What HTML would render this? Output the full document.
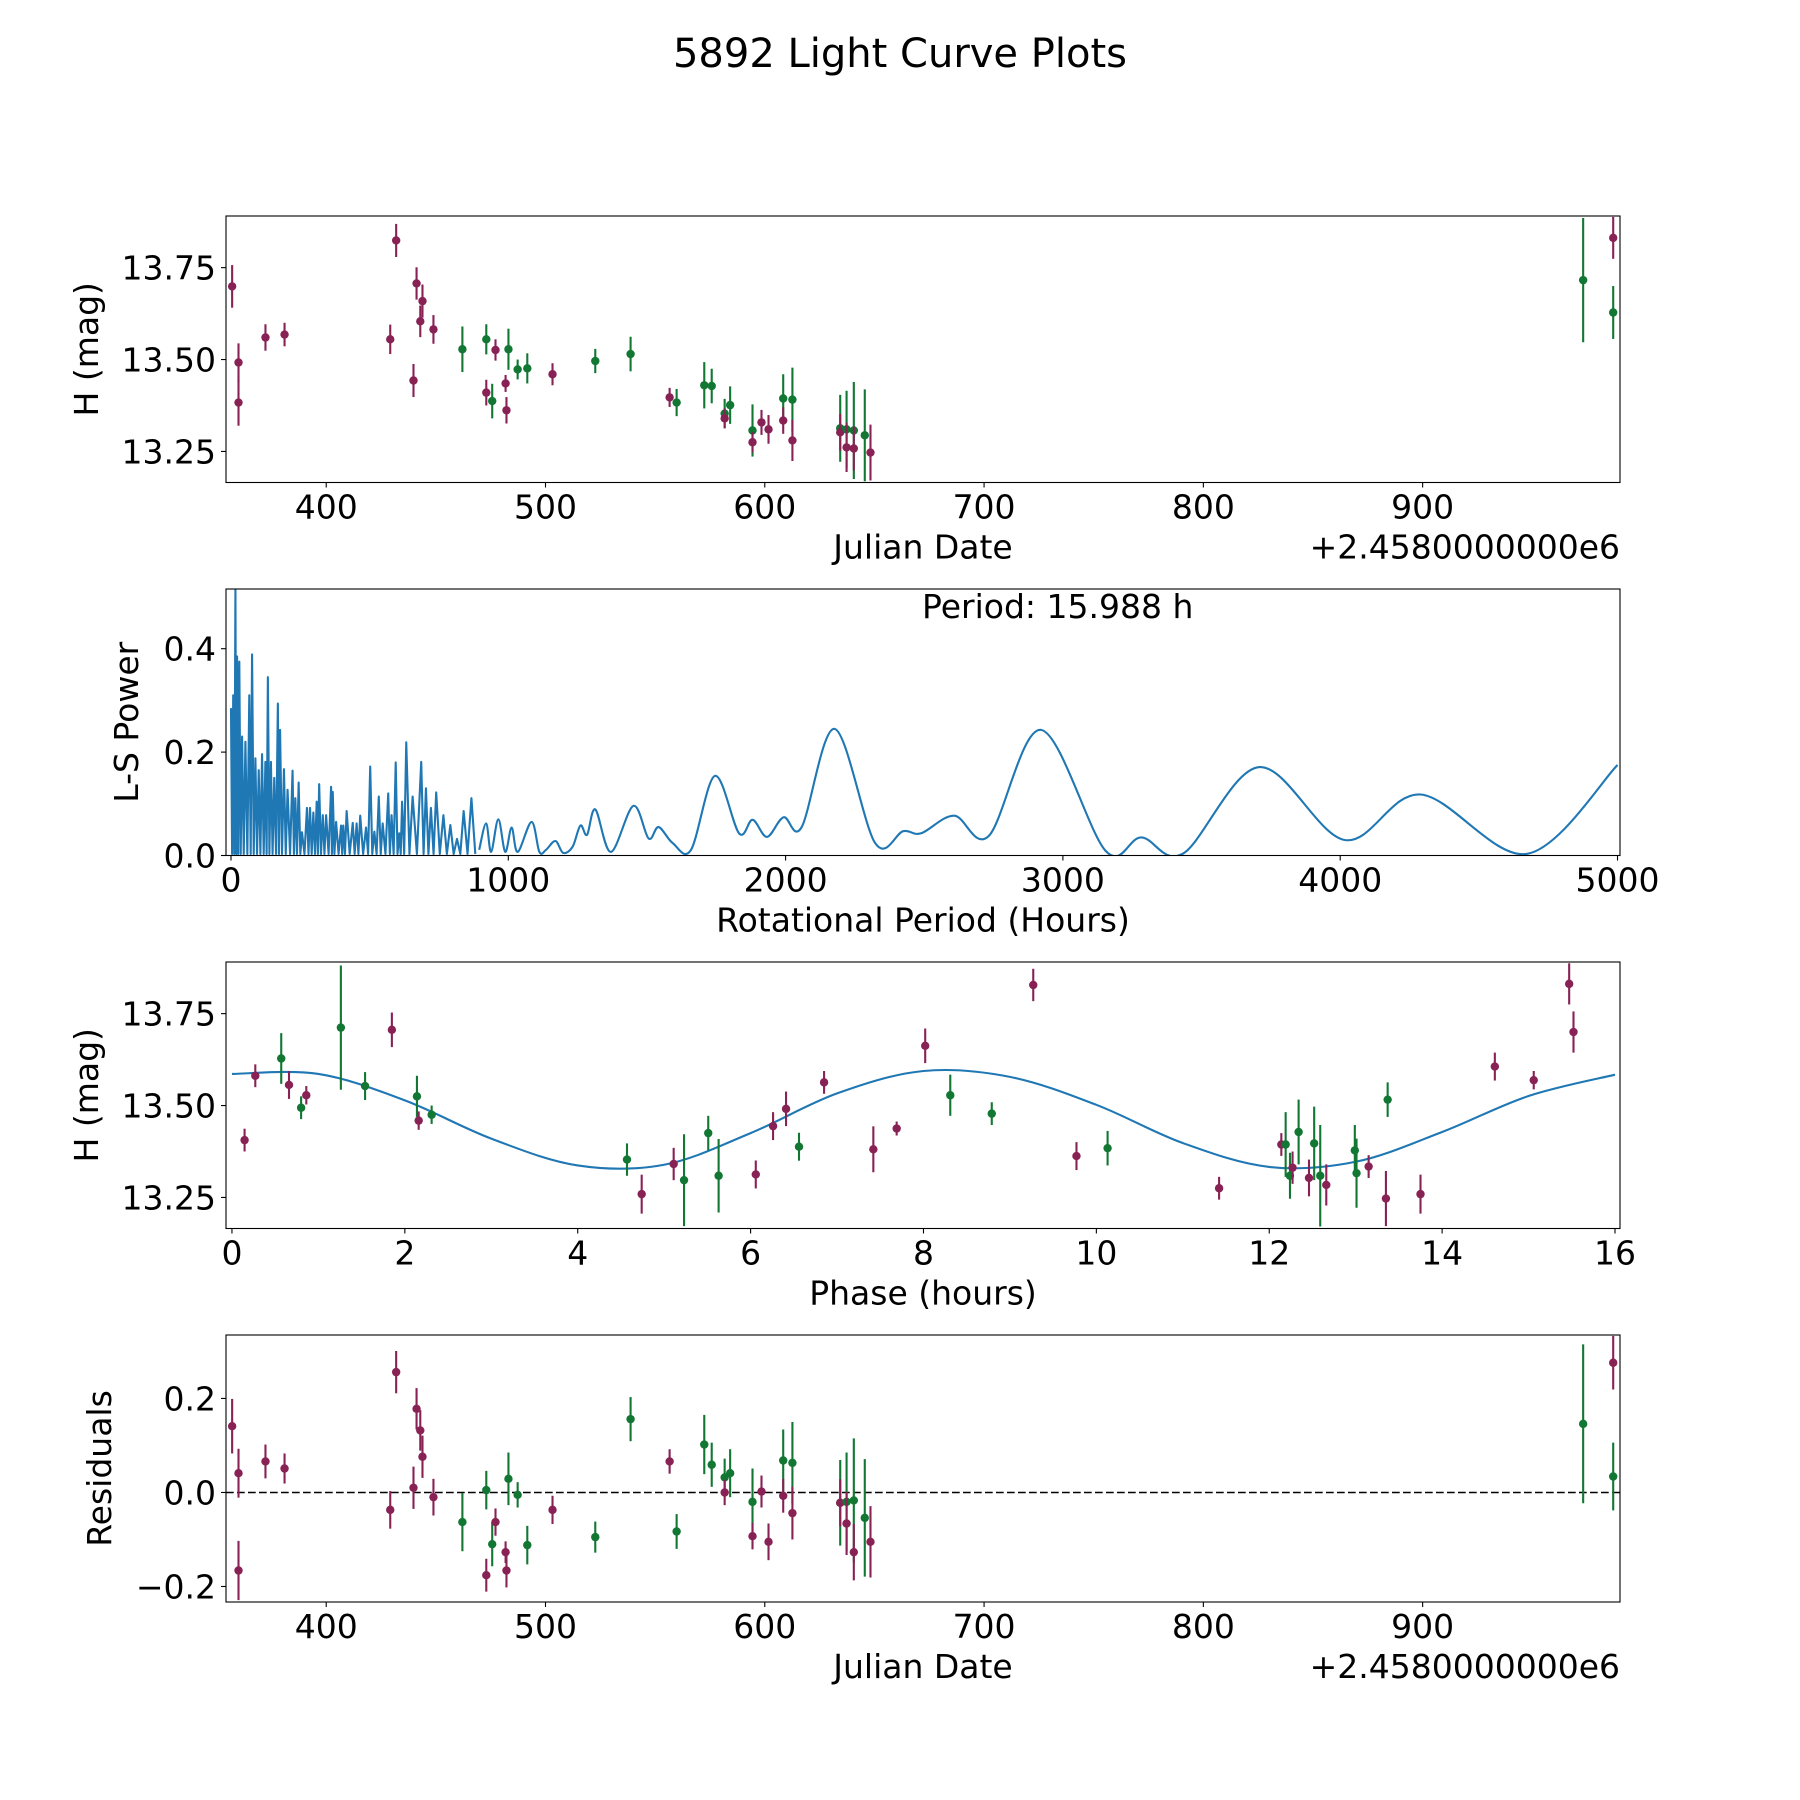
<!DOCTYPE html>
<html>
<head>
<meta charset="utf-8">
<style>
html,body{margin:0;padding:0;background:#fff;}
svg{display:block;}
text{font-family:"DejaVu Sans","Liberation Sans",sans-serif;fill:#000;}
</style>
</head>
<body>
<svg id="fig" width="1800" height="1800" viewBox="0 0 1800 1800" xmlns="http://www.w3.org/2000/svg">
<rect x="0" y="0" width="1800" height="1800" fill="#fff"/>
<text x="900" y="67" font-size="40" text-anchor="middle">5892 Light Curve Plots</text>
</svg>
<script>
// ---------- Data: time-domain light curve ----------
const days = [357.1,360.0,360.0,372.3,381.0,429.2,431.9,439.8,441.2,442.9,443.9,448.9,462.1,473.0,473.0,475.7,477.2,483.1,481.8,482.2,487.3,491.7,503.2,522.7,538.8,556.6,559.8,572.4,575.8,581.7,581.7,584.2,594.4,594.4,598.5,601.7,608.4,608.4,612.6,612.6,634.4,634.4,637.3,637.3,640.6,640.6,645.6,648.2,973.2,986.9,986.9];
const mags = [13.699,13.492,13.383,13.56,13.568,13.555,13.824,13.443,13.707,13.604,13.659,13.582,13.528,13.555,13.41,13.387,13.526,13.528,13.435,13.362,13.473,13.476,13.46,13.496,13.515,13.397,13.383,13.43,13.428,13.353,13.34,13.376,13.307,13.275,13.329,13.31,13.394,13.334,13.391,13.28,13.313,13.302,13.31,13.261,13.307,13.258,13.294,13.247,13.716,13.628,13.831];
const errs = [0.058,0.052,0.063,0.036,0.032,0.04,0.045,0.045,0.044,0.043,0.045,0.039,0.062,0.041,0.035,0.047,0.029,0.056,0.023,0.036,0.027,0.041,0.03,0.033,0.047,0.026,0.037,0.063,0.047,0.04,0.027,0.051,0.071,0.028,0.034,0.039,0.066,0.036,0.087,0.056,0.091,0.05,0.105,0.067,0.132,0.06,0.125,0.076,0.169,0.072,0.057];
const bands = ["m","m","m","m","m","m","m","m","m","m","m","m","g","g","m","g","m","g","m","m","g","g","m","g","g","m","g","g","g","g","m","g","g","m","m","m","g","m","g","m","g","m","g","m","g","m","g","m","g","g","m"];
const resid = [0.141,0.041,-0.166,0.066,0.051,-0.037,0.256,0.01,0.178,0.132,0.076,-0.01,-0.063,0.005,-0.176,-0.11,-0.063,0.029,-0.127,-0.166,-0.005,-0.112,-0.037,-0.095,0.156,0.066,-0.083,0.102,0.059,0.032,0.0,0.041,-0.02,-0.093,0.002,-0.105,0.068,-0.007,0.063,-0.044,-0.022,-0.022,-0.02,-0.066,-0.017,-0.127,-0.054,-0.105,0.146,0.034,0.276];

// ---------- Data: phase-folded ----------
const phases = [0.146,0.27,0.57,0.66,0.80,0.86,1.26,1.54,1.85,2.14,2.16,2.31,4.57,4.74,5.11,5.23,5.51,5.63,6.06,6.26,6.41,6.56,6.85,7.42,7.69,8.02,8.31,8.79,9.27,9.77,10.13,11.42,12.14,12.19,12.24,12.27,12.34,12.46,12.52,12.59,12.66,12.99,13.01,13.15,13.35,13.37,13.75,14.61,15.06,15.47,15.52];
const phaseMags = [13.406,13.581,13.628,13.556,13.494,13.528,13.712,13.553,13.706,13.525,13.459,13.475,13.353,13.259,13.341,13.297,13.425,13.309,13.3125,13.444,13.491,13.388,13.563,13.381,13.4375,13.6625,13.528,13.478,13.828,13.3625,13.384,13.275,13.394,13.394,13.309,13.331,13.428,13.303,13.397,13.309,13.284,13.378,13.316,13.334,13.247,13.516,13.259,13.606,13.569,13.831,13.70];
const phaseErrs = [0.031,0.031,0.069,0.038,0.031,0.025,0.169,0.038,0.047,0.056,0.025,0.025,0.044,0.053,0.044,0.125,0.047,0.1,0.038,0.038,0.047,0.038,0.031,0.0625,0.019,0.047,0.056,0.031,0.044,0.038,0.047,0.031,0.031,0.088,0.0625,0.044,0.088,0.05,0.1,0.138,0.056,0.069,0.094,0.031,0.075,0.047,0.053,0.038,0.025,0.056,0.056];
const phaseBands = ["m","m","g","m","g","m","g","g","m","g","m","g","g","m","m","g","g","g","m","m","m","g","m","m","m","m","g","g","m","m","g","m","m","g","g","m","g","m","g","g","m","g","g","m","m","g","m","m","m","m","m"];
const modelPhase = [0,1,2,3,4,5,6,7,8,9,10,11,12,13,14,15,16];
const modelMag = [13.586,13.586,13.514,13.410,13.337,13.339,13.425,13.533,13.594,13.578,13.502,13.398,13.333,13.347,13.428,13.526,13.584];

// ---------- Data: periodogram ----------
const densePeriods = [0,8,16,22,30,40,52,66,76,88,100,112,124,133,144,156,169,177,191,204,222,232,244,256,274,285,297,309,318,331,343,361,367,379,397,405,417,439,453,466,487,502,517,533,547,567,579,594,607,617,632,655,686,703,721,740,766,791,815,839,867];
const densePowers = [0.285,0.31,0.514,0.385,0.375,0.23,0.22,0.31,0.389,0.188,0.165,0.196,0.181,0.345,0.181,0.15,0.294,0.243,0.167,0.127,0.164,0.111,0.141,0.045,0.092,0.092,0.083,0.104,0.138,0.078,0.078,0.133,0.123,0.065,0.058,0.058,0.086,0.063,0.062,0.077,0.054,0.172,0.046,0.114,0.062,0.12,0.078,0.18,0.043,0.104,0.219,0.114,0.181,0.13,0.092,0.122,0.078,0.059,0.032,0.086,0.111];
const smoothPeriods = [895,920,938,964,989,1012,1034,1084,1112,1136,1170,1198,1232,1260,1284,1314,1370,1451,1506,1542,1593,1659,1745,1832,1881,1933,1993,2058,2177,2323,2424,2489,2608,2733,2921,3154,3283,3434,3708,4016,4290,4672,5000];
const smoothPowers = [0.011,0.062,0.007,0.07,0.007,0.054,0.007,0.065,0.007,0.011,0.028,0.005,0.017,0.058,0.04,0.089,0.007,0.096,0.033,0.055,0.024,0.011,0.154,0.043,0.069,0.036,0.074,0.055,0.245,0.024,0.047,0.043,0.077,0.038,0.243,0.009,0.035,0.004,0.171,0.03,0.118,0.003,0.175];

// ---------- Tick arrays ----------
const jdTicks = [400,500,600,700,800,900];
const magTicks = [13.25,13.50,13.75];
const magTickLabels = ["13.25","13.50","13.75"];
const powTicks = [0,0.2,0.4];
const powTickLabels = ["0.0","0.2","0.4"];
const perTicks = [0,1000,2000,3000,4000,5000];
const phaseTicks = [0,2,4,6,8,10,12,14,16];
const resTicks = [-0.2,0,0.2];
const resTickLabels = ["\u22120.2","0.0","0.2"];

const NS = "http://www.w3.org/2000/svg";
const svg = document.getElementById("fig");
const COL = {m:"#882255", g:"#117733"};
const L = 226, R = 1620;

function mk(tag, attrs, parent){
  const e = document.createElementNS(NS, tag);
  for (const k in attrs) e.setAttribute(k, attrs[k]);
  (parent||svg).appendChild(e);
  return e;
}
function scale(d0,d1,r0,r1){ return v => r0 + (v-d0)/(d1-d0)*(r1-r0); }

function catmull(pts){
  let d = "M" + pts[0][0].toFixed(2) + "," + pts[0][1].toFixed(2);
  for (let i=0;i<pts.length-1;i++){
    const p0 = pts[i-1]||pts[i], p1 = pts[i], p2 = pts[i+1], p3 = pts[i+2]||pts[i+1];
    const c1x = p1[0]+(p2[0]-p0[0])/6, c1y = p1[1]+(p2[1]-p0[1])/6;
    const c2x = p2[0]-(p3[0]-p1[0])/6, c2y = p2[1]-(p3[1]-p1[1])/6;
    d += " C"+c1x.toFixed(2)+","+c1y.toFixed(2)+" "+c2x.toFixed(2)+","+c2y.toFixed(2)+" "+p2[0].toFixed(2)+","+p2[1].toFixed(2);
  }
  return d;
}

function makeAxes(id, top, bottom, xs, ys, xticks, xlabels, yticks, ylabels, xlabel, ylabel, ylabelX){
  const g = mk("g", {});
  
  
  const clip = mk("clipPath", {id: id+"-clip"}, g);
  mk("rect", {x:L, y:top, width:R-L, height:bottom-top}, clip);
  const plot = mk("g", {"clip-path":"url(#"+id+"-clip)"}, g);
  
  
  xticks.forEach((t,i)=>{
    const x = xs(t);
    const tk = mk("line", {x1:x, x2:x, y1:bottom, y2:bottom+5, stroke:"#000", "stroke-width":1.1}, g);
    
    
    const tx = mk("text", {x:x, y:bottom+36, "font-size":33, "text-anchor":"middle"}, g);
    tx.textContent = xlabels[i];
    
    
  });
  yticks.forEach((t,i)=>{
    const y = ys(t);
    const tk = mk("line", {x1:L-5, x2:L, y1:y, y2:y, stroke:"#000", "stroke-width":1.1}, g);
    
    
    const tx = mk("text", {x:L-10, y:y+12, "font-size":33, "text-anchor":"end"}, g);
    tx.textContent = ylabels[i];
    
    
  });
  const xl = mk("text", {x:(L+R)/2, y:bottom+76, "font-size":33, "text-anchor":"middle"}, g);
  xl.textContent = xlabel;
  
  
  const cy = (top+bottom)/2;
  const yl = mk("text", {x:ylabelX, y:cy, "font-size":33, "text-anchor":"middle", transform:"rotate(-90 "+ylabelX+" "+cy+")"}, g);
  yl.textContent = ylabel;
  
  
  return {g, plot, top, bottom};
}
function frame(ax, id){
  const f = mk("rect", {x:L, y:ax.top, width:R-L, height:ax.bottom-ax.top, fill:"none", stroke:"#000", "stroke-width":1.1}, ax.g);
  
  
}
function errpoint(parent, x, y, y1, y2, col, id){
  const ln = mk("line", {x1:x, x2:x, y1:y1, y2:y2, stroke:col, "stroke-width":2.1}, parent);
  
  
  const c = mk("circle", {cx:x, cy:y, r:4.2, fill:col}, parent);
  
  
}

// Panel 1: light curve
(function(){
  const top=216, bottom=482.5;
  const xs = scale(354.3, 990.0, L, R);
  const ys = scale(13.1655, 13.8905, bottom, top);
  const ax = makeAxes("lightcurve", top, bottom, xs, ys, jdTicks, jdTicks.map(String), magTicks, magTickLabels, "Julian Date", "H (mag)", 98);
  days.forEach((d,i)=>{
    errpoint(ax.plot, xs(d), ys(mags[i]), ys(mags[i]-errs[i]), ys(mags[i]+errs[i]), COL[bands[i]], "lightcurve");
  });
  frame(ax, "lightcurve");
  const off = mk("text", {x:R, y:bottom+76, "font-size":33, "text-anchor":"end"}, ax.g);
  off.textContent = "+2.4580000000e6";
  
  
})();

// Panel 2: periodogram
(function(){
  const top=589, bottom=855.5;
  const xs = scale(-18, 5009, L, R);
  const ys = scale(0, 0.5155, bottom, top);
  const ax = makeAxes("periodogram", top, bottom, xs, ys, perTicks, perTicks.map(String), powTicks, powTickLabels, "Rotational Period (Hours)", "L-S Power", 138);
  let d = "";
  densePeriods.forEach((p,i)=>{
    d += (i===0?"M":" L") + xs(p).toFixed(2) + "," + ys(densePowers[i]).toFixed(2);
    const nextP = i < densePeriods.length-1 ? densePeriods[i+1] : smoothPeriods[0];
    d += " L" + xs((p+nextP)/2).toFixed(2) + "," + ys(0.003).toFixed(2);
  });
  const dense = mk("path", {d:d, fill:"none", stroke:"#1f77b4", "stroke-width":2.1, "stroke-linejoin":"round"}, ax.plot);
  
  
  const pts = smoothPeriods.map((p,i)=>[xs(p), ys(smoothPowers[i])]);
  const sm = mk("path", {d:catmull(pts), fill:"none", stroke:"#1f77b4", "stroke-width":2.1}, ax.plot);
  
  
  frame(ax, "periodogram");
  const pt = mk("text", {x:922, y:618, "font-size":33}, ax.g);
  pt.textContent = "Period: 15.988 h";
  
  
})();

// Panel 3: phase folded
(function(){
  const top=962, bottom=1228.5;
  const xs = scale(-0.069, 16.058, L, R);
  const ys = scale(13.1655, 13.8905, bottom, top);
  const ax = makeAxes("phase", top, bottom, xs, ys, phaseTicks, phaseTicks.map(String), magTicks, magTickLabels, "Phase (hours)", "H (mag)", 98);
  const pts = modelPhase.map((p,i)=>[xs(p), ys(modelMag[i])]);
  const model = mk("path", {d:catmull(pts), fill:"none", stroke:"#1f77b4", "stroke-width":2.1}, ax.plot);
  
  
  phases.forEach((p,i)=>{
    errpoint(ax.plot, xs(p), ys(phaseMags[i]), ys(phaseMags[i]-phaseErrs[i]), ys(phaseMags[i]+phaseErrs[i]), COL[phaseBands[i]], "phase");
  });
  frame(ax, "phase");
})();

// Panel 4: residuals
(function(){
  const top=1335, bottom=1602;
  const xs = scale(354.3, 990.0, L, R);
  const ys = scale(-0.233, 0.335, bottom, top);
  const ax = makeAxes("residuals", top, bottom, xs, ys, jdTicks, jdTicks.map(String), resTicks, resTickLabels, "Julian Date", "Residuals", 111);
  const zl = mk("line", {x1:L, x2:R, y1:ys(0), y2:ys(0), stroke:"#000", "stroke-width":1.5, "stroke-dasharray":"7.7 3.3"}, ax.plot);
  
  
  days.forEach((d,i)=>{
    errpoint(ax.plot, xs(d), ys(resid[i]), ys(resid[i]-errs[i]), ys(resid[i]+errs[i]), COL[bands[i]], "residuals");
  });
  frame(ax, "residuals");
  const off = mk("text", {x:R, y:bottom+76, "font-size":33, "text-anchor":"end"}, ax.g);
  off.textContent = "+2.4580000000e6";
  
  
})();
</script>
</body>
</html>
